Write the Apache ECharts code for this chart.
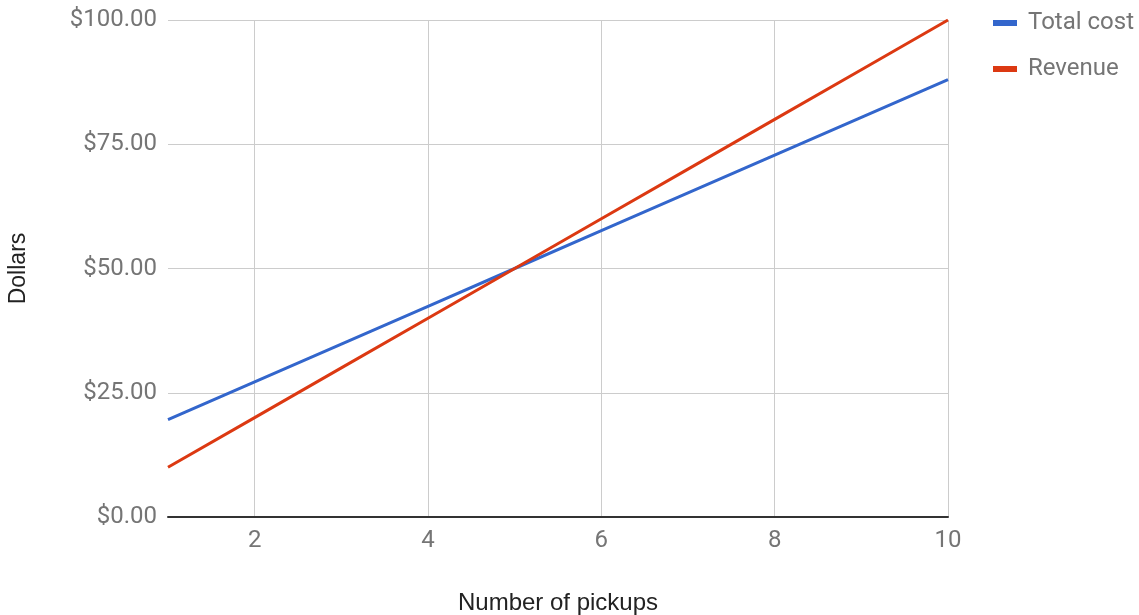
<!DOCTYPE html>
<html>
<head>
<meta charset="utf-8">
<script src="https://cdn.jsdelivr.net/npm/echarts@6/dist/echarts.min.js"></script>
<style>html,body{margin:0;padding:0;background:#fff}#c{width:1139px;height:615px}</style>
</head>
<body>
<div id="c"></div>
<script>
const pickups = [1, 2, 3, 4, 5, 6, 7, 8, 9, 10];
const totalCost = [19.6, 27.2, 34.8, 42.4, 50.0, 57.6, 65.2, 72.8, 80.4, 88.0];
const revenue = [10, 20, 30, 40, 50, 60, 70, 80, 90, 100];
const seriesNames = ['Total cost', 'Revenue'];
const xTitle = 'Number of pickups';
const yTitle = 'Dollars';

const chart = echarts.init(document.getElementById('c'));
const pair = (xs, ys) => xs.map((x, i) => [x, ys[i]]);
chart.setOption({
  animation: false,
  color: ['#3366CC', '#DC3912'],
  grid: { left: 168, right: 191, top: 20, bottom: 98, containLabel: false, outerBoundsMode: 'none' },
  legend: {
    orient: 'vertical',
    left: 988, top: 6,
    icon: 'rect', itemWidth: 24, itemHeight: 6, itemGap: 22,
    textStyle: { fontFamily: 'Roboto', fontSize: 24, color: '#757575', padding: [0, 0, 0, 6] },
    data: seriesNames
  },
  xAxis: {
    type: 'value', min: 1, max: 10, splitNumber: 5,
    name: xTitle, nameLocation: 'middle', nameGap: 74,
    nameTextStyle: { fontFamily: 'Liberation Sans', fontSize: 24, color: '#222' },
    axisLine: { show: true, lineStyle: { color: '#333', width: 2 } },
    axisTick: { show: false },
    axisLabel: { fontFamily: 'Roboto', fontSize: 24, color: '#757575', margin: 12, showMinLabel: false },
    splitLine: { show: true, showMinLine: false, lineStyle: { color: '#cccccc', width: 1 } }
  },
  yAxis: {
    type: 'value', min: 0, max: 100, interval: 25,
    name: yTitle, nameLocation: 'middle', nameGap: 138, nameRotate: 90,
    nameTextStyle: { fontFamily: 'Liberation Sans', fontSize: 23, color: '#222' },
    axisLine: { show: false },
    axisTick: { show: false },
    axisLabel: { fontFamily: 'Roboto', fontSize: 24, color: '#757575', margin: 11,
      formatter: v => '$' + v.toFixed(2) },
    splitLine: { show: true, lineStyle: { color: '#cccccc', width: 1 } }
  },
  series: [
    { name: seriesNames[0], type: 'line', data: pair(pickups, totalCost), showSymbol: false, lineStyle: { width: 3 }, z: 3 },
    { name: seriesNames[1], type: 'line', data: pair(pickups, revenue), showSymbol: false, lineStyle: { width: 3 }, z: 4 }
  ]
});
</script>
</body>
</html>
